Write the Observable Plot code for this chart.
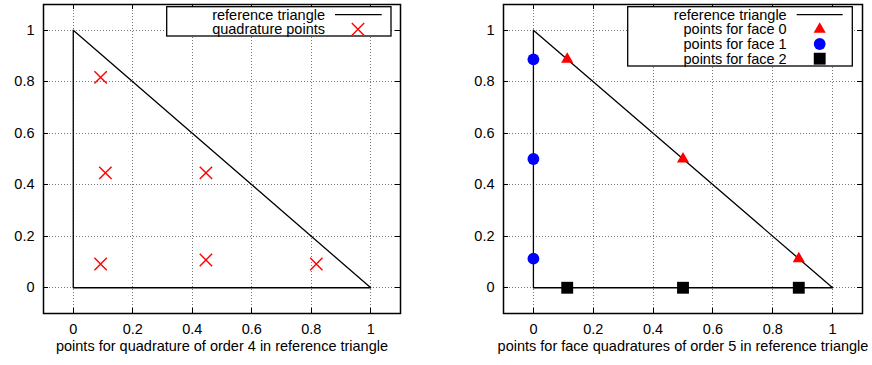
<!DOCTYPE html>
<html><head><meta charset="utf-8">
<script src="https://cdn.jsdelivr.net/npm/d3@7"></script>
<script src="https://cdn.jsdelivr.net/npm/@observablehq/plot@0.6"></script>
<style>
body{margin:0;background:#fff;}
#wrap{display:flex;width:872px;height:365px;}
#wrap svg{display:block;overflow:visible;}
</style></head><body><div id="wrap"></div>
<script>
const tickValues = [0, 0.2, 0.4, 0.6, 0.8, 1];
const tickLabels = ["0", "0.2", "0.4", "0.6", "0.8", "1"];
const triangleX = [0, 1, 0, 0];
const triangleY = [0, 0, 1, 0];
const quadX = [0.092, 0.817, 0.092, 0.446, 0.108, 0.446];
const quadY = [0.092, 0.092, 0.817, 0.446, 0.446, 0.108];
const face0X = [0.113, 0.5, 0.887];
const face0Y = [0.887, 0.5, 0.113];
const face1X = [0, 0, 0];
const face1Y = [0.113, 0.5, 0.887];
const face2X = [0.113, 0.5, 0.887];
const face2Y = [0, 0, 0];
const leftTitle = "points for quadrature of order 4 in reference triangle";
const rightTitle = "points for face quadratures of order 5 in reference triangle";
const legendLeft = ["reference triangle", "quadrature points"];
const legendRight = ["reference triangle", "points for face 0", "points for face 1", "points for face 2"];

const W = 436, H = 365, MT = 4, MB = 52;
const FONT = "'Liberation Sans', Arial, Helvetica, sans-serif";
const toPts = (xs, ys) => xs.map((x, i) => ({x, y: ys[i]}));
const tri = toPts(triangleX, triangleY);

const sym = {
  times: {symbol: "times", r: 5.7, fill: "none", stroke: "red", strokeWidth: 1.4},
  triangle: {symbol: "triangle", r: 4.5, fill: "red", stroke: "none"},
  circle: {symbol: "circle", r: 5.9, fill: "blue", stroke: "none"},
  square: {symbol: "square", r: 6.7, fill: "black", stroke: "none"}
};

function panel(ml, mr, title, pointMarks) {
  const fw = W - ml - mr, fh = H - MT - MB;
  const fmt = d => tickLabels[tickValues.indexOf(d)];
  const tick = {stroke: "black", strokeWidth: 1, shapeRendering: "crispEdges"};
  const svg = Plot.plot({
    width: W, height: H, marginTop: MT, marginBottom: MB, marginLeft: ml, marginRight: mr,
    x: {domain: [-0.1, 1.1]},
    y: {domain: [-0.1, 1.1]},
    style: {fontFamily: FONT, fontSize: "14.5px", color: "black", background: "white"},
    marks: [
      Plot.ruleX(tickValues, {x: d => d, insetBottom: fh - 5, ...tick}),
      Plot.ruleX(tickValues, {x: d => d, insetTop: fh - 5, ...tick}),
      Plot.ruleY(tickValues, {y: d => d, insetRight: fw - 5, ...tick}),
      Plot.ruleY(tickValues, {y: d => d, insetLeft: fw - 5, ...tick}),
      Plot.line(tri, {x: "x", y: "y", stroke: "black", strokeWidth: 1.3}),
      ...pointMarks,
      Plot.frame({stroke: "black", strokeWidth: 1.5}),
      Plot.axisX(tickValues, {tickSize: 0, tickPadding: 10, tickFormat: fmt, label: null}),
      Plot.axisY(tickValues, {tickSize: 0, tickPadding: 9, tickFormat: fmt, label: null}),
      Plot.text([title], {frameAnchor: "bottom", dy: 37, text: d => d, fontSize: 14.5})
    ]
  });
  // dotted grid drawn from the plot's own scales, placed beneath all marks
  const sx = svg.scale("x"), sy = svg.scale("y");
  const first = svg.querySelector("g");
  const grid = document.createElementNS("http://www.w3.org/2000/svg", "g");
  grid.setAttribute("stroke", "#777");
  grid.setAttribute("stroke-width", "1");
  grid.setAttribute("stroke-dasharray", "1,2");
  grid.setAttribute("shape-rendering", "crispEdges");
  svg.insertBefore(grid, first);
  const g = d3.select(grid);
  tickValues.forEach(v => {
    const x = Math.round(sx.apply(v)) + 0.5;
    g.append("line").attr("x1", x).attr("x2", x).attr("y1", MT).attr("y2", H - MB);
    const y = Math.round(sy.apply(v)) + 0.5;
    g.append("line").attr("x1", ml).attr("x2", W - mr).attr("y1", y).attr("y2", y);
  });
  return svg;
}

function addLegend(svg, box, textRight, lineX, markX, rows, entries) {
  const g = d3.select(svg).append("g").attr("font-family", FONT).attr("font-size", "14.5px");
  g.append("rect").attr("x", box[0]).attr("y", box[1]).attr("width", box[2] - box[0]).attr("height", box[3] - box[1])
    .attr("fill", "white").attr("stroke", "black").attr("stroke-width", 1.3);
  entries.forEach((e, i) => {
    const y = rows[i];
    g.append("text").attr("x", textRight).attr("y", y).attr("dy", "0.34em")
      .attr("text-anchor", "end").attr("fill", "black").text(e.label);
    if (e.line) {
      g.append("line").attr("x1", lineX[0]).attr("x2", lineX[1]).attr("y1", y).attr("y2", y)
        .attr("stroke", "black").attr("stroke-width", 1.3);
    } else {
      const s = e.sym;
      const types = {times: d3.symbolTimes, triangle: d3.symbolTriangle, circle: d3.symbolCircle, square: d3.symbolSquare};
      g.append("path").attr("transform", `translate(${markX},${y})`)
        .attr("d", d3.symbol(types[s.symbol], Math.PI * s.r * s.r)())
        .attr("fill", s.fill).attr("stroke", s.stroke).attr("stroke-width", s.strokeWidth || 0);
    }
  });
}

const wrap = document.getElementById("wrap");

const left = panel(43, 36, leftTitle, [
  Plot.dot(toPts(quadX, quadY), {x: "x", y: "y", ...sym.times})
]);
addLegend(left, [166.7, 6.7, 391, 36], 325, [335, 381.7], 358, [14.7, 29.3], [
  {label: legendLeft[0], line: true},
  {label: legendLeft[1], sym: sym.times}
]);
wrap.appendChild(left);

const right = panel(67, 10, rightTitle, [
  Plot.dot(toPts(face0X, face0Y), {x: "x", y: "y", ...sym.triangle}),
  Plot.dot(toPts(face1X, face1Y), {x: "x", y: "y", ...sym.circle}),
  Plot.dot(toPts(face2X, face2Y), {x: "x", y: "y", ...sym.square})
]);
addLegend(right, [191.7, 6.7, 416.3, 66], 350.7, [360.7, 406.7], 383.7, [14.7, 29.3, 44, 58.7], [
  {label: legendRight[0], line: true},
  {label: legendRight[1], sym: sym.triangle},
  {label: legendRight[2], sym: sym.circle},
  {label: legendRight[3], sym: sym.square}
]);
wrap.appendChild(right);
</script>
</body></html>
